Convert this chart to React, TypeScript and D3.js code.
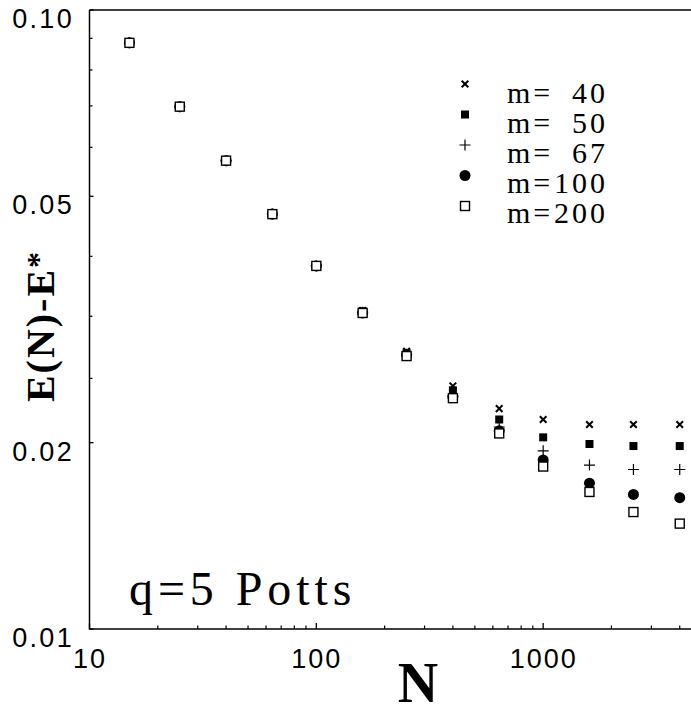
import React from "react";
import * as d3 from "d3";

const sizes = [15, 25, 40, 64, 100, 160, 250, 400, 640, 1000, 1600, 2500, 4000];
const seriesNames = ["m=", "m=", "m=", "m=", "m="];
const seriesM = ["40", "50", "67", "100", "200"];
const m40 = [0.0885, 0.0698, 0.0571, 0.0468, 0.0386, 0.0327, 0.0281, 0.0247, 0.0227, 0.0218, 0.0214, 0.0214, 0.0214];
const m50 = [0.0885, 0.0698, 0.0571, 0.0468, 0.0386, 0.0326, 0.0279, 0.0243, 0.0218, 0.0204, 0.0199, 0.01975, 0.01975];
const m67 = [0.0885, 0.0698, 0.0571, 0.0468, 0.0386, 0.0325, 0.0278, 0.0238, 0.0212, 0.0194, 0.0184, 0.0181, 0.0181];
const m100 = [0.0885, 0.0698, 0.0571, 0.0468, 0.0386, 0.0324, 0.0277, 0.0237, 0.0209, 0.01875, 0.0172, 0.0165, 0.0163];
const m200 = [0.0885, 0.0698, 0.0571, 0.0468, 0.0386, 0.0324, 0.0276, 0.0236, 0.0207, 0.0183, 0.01665, 0.01545, 0.0148];
const markerKinds = ["x", "fsq", "plus", "dot", "osq"];

const xMajor = [10, 100, 1000];
const xMinor = [20, 30, 40, 50, 60, 70, 80, 90, 200, 300, 400, 500, 600, 700, 800, 900, 2000, 3000, 4000, 5000, 6000, 7000, 8000, 9000];
const yMajor = [0.01, 0.02, 0.05, 0.1];
const yMajorLabels = ["0.01", "0.02", "0.05", "0.10"];
const yMinor = [0.09, 0.08, 0.07, 0.06, 0.04, 0.032, 0.0254];

const W = 691;
const H = 715;

function Marker({ kind, x, y }: { kind: string; x: number; y: number }) {
  if (kind === "x") {
    const s = 3.3;
    return (
      <path
        d={`M${x - s},${y - s}L${x + s},${y + s}M${x - s},${y + s}L${x + s},${y - s}`}
        stroke="#000"
        strokeWidth={2}
        fill="none"
      />
    );
  }
  if (kind === "fsq") {
    const p = d3.symbol().type(d3.symbolSquare).size(64)()!;
    return <path d={p} transform={`translate(${x},${y})`} fill="#000" />;
  }
  if (kind === "plus") {
    const s = 5.5;
    return (
      <path
        d={`M${x - s},${y}L${x + s},${y}M${x},${y - s}L${x},${y + s}`}
        stroke="#000"
        strokeWidth={1.2}
        fill="none"
      />
    );
  }
  if (kind === "dot") {
    return <circle cx={x} cy={y} r={5.5} fill="#000" />;
  }
  return <rect x={x - 4.5} y={y - 4.5} width={9} height={9} fill="#fff" stroke="#000" strokeWidth={1.4} />;
}

export default function App() {
  const x = d3.scaleLog().domain([10, 10000]).range([89.5, 770]);
  const y = d3.scaleLog().domain([0.01, 0.1]).range([629, 10]);
  const series = [m40, m50, m67, m100, m200];
  const sans = "'Liberation Sans', Arial, Helvetica, sans-serif";
  const serif = "'Liberation Serif', 'Times New Roman', Times, serif";
  const x0 = x.range()[0];
  const y0 = y.range()[0];
  const yTop = y.range()[1];

  return (
    <svg
      width={W}
      height={H}
      style={{ position: "absolute", left: 0, top: 0, background: "#fff" }}
    >
      <rect x={0} y={0} width={W} height={H} fill="#fff" />
      <path
        d={`M${x0},${yTop}L${x.range()[1]},${yTop}M${x0},${yTop}L${x0},${y0}L${x.range()[1]},${y0}`}
        stroke="#000"
        strokeWidth={1.5}
        fill="none"
      />
      {xMajor.map((v) => (
        <g key={"xM" + v}>
          <line x1={x(v)} x2={x(v)} y1={y0} y2={y0 - 6} stroke="#000" strokeWidth={1.3} />
          <text
            x={x(v) + 0.5}
            y={668}
            textAnchor="middle"
            fontFamily={sans}
            fontSize={27}
            letterSpacing={2}
          >
            {String(v)}
          </text>
        </g>
      ))}
      {xMinor.map((v) => (
        <line key={"xm" + v} x1={x(v)} x2={x(v)} y1={y0} y2={y0 - 3.5} stroke="#000" strokeWidth={1.2} />
      ))}
      {yMajor.map((v, i) => (
        <g key={"yM" + v}>
          <line x1={x0} x2={x0 + 4} y1={y(v)} y2={y(v)} stroke="#000" strokeWidth={1.3} />
          <text
            x={74}
            y={y(v) + 18}
            textAnchor="end"
            fontFamily={sans}
            fontSize={27}
            letterSpacing={2.3}
          >
            {yMajorLabels[i]}
          </text>
        </g>
      ))}
      {yMinor.map((v) => (
        <line key={"ym" + v} x1={x0} x2={x0 + 3} y1={y(v)} y2={y(v)} stroke="#000" strokeWidth={1.2} />
      ))}
      {series.map((s, si) =>
        s.map((v, i) => (
          <Marker key={si + "-" + i} kind={markerKinds[si]} x={x(sizes[i])} y={y(v)} />
        ))
      )}
      {seriesM.map((m, i) => (
        <g key={"lg" + i}>
          <Marker kind={markerKinds[i]} x={465} y={84 + i * 30.5} />
          <text x={507} y={103 + i * 30} fontFamily={serif} fontSize={30} letterSpacing={3}>
            {seriesNames[i]}
          </text>
          <text
            x={608}
            y={103 + i * 30}
            textAnchor="end"
            fontFamily={serif}
            fontSize={30}
            letterSpacing={3}
          >
            {m}
          </text>
        </g>
      ))}
      <text x={129} y={605} fontFamily={serif} fontSize={48} letterSpacing={4.9}>
        q=5 Potts
      </text>
      <text x={418} y={702} textAnchor="middle" fontFamily={serif} fontSize={56} fontWeight="bold">
        N
      </text>
      <text
        transform="translate(54,326) rotate(-90)"
        textAnchor="middle"
        fontFamily={serif}
        fontSize={40}
        fontWeight="bold"
        letterSpacing={2}
      >
        E(N)-E<tspan fontSize={32} dy={-5}>*</tspan>
      </text>
    </svg>
  );
}
